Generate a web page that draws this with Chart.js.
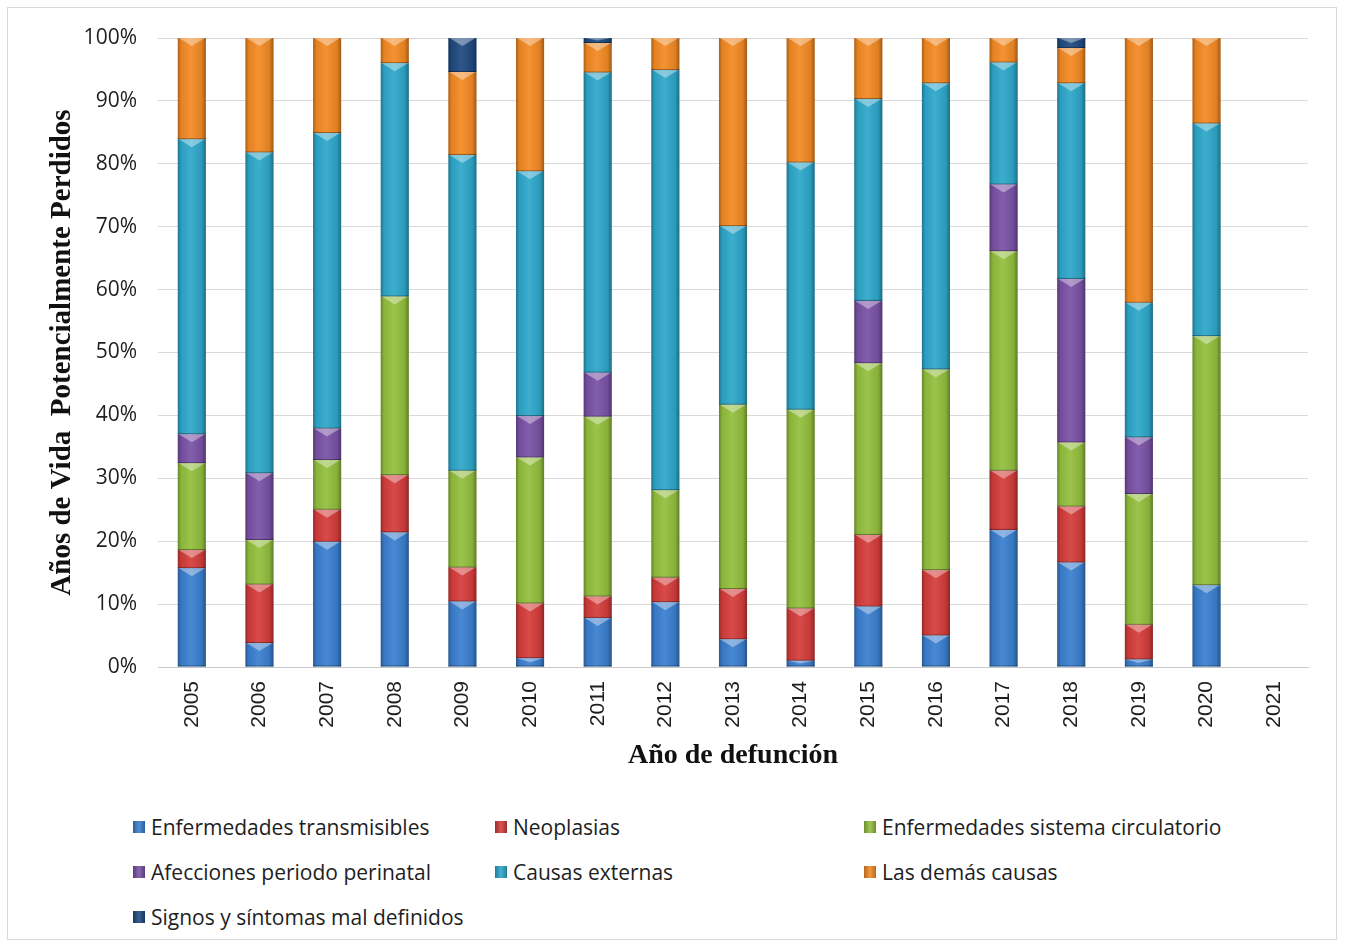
<!DOCTYPE html>
<html lang="es">
<head>
<meta charset="utf-8">
<title>Años de Vida Potencialmente Perdidos por año de defunción</title>
<script src="https://cdn.jsdelivr.net/npm/chart.js@4/dist/chart.umd.min.js"></script>
<style>
  html, body { margin: 0; padding: 0; background: #ffffff; }
  #wrap { position: relative; width: 1345px; height: 947px; overflow: hidden; }
  #frame { position: absolute; left: 7px; top: 7px; width: 1330px; height: 933px;
           border: 1px solid #d9d9d9; box-sizing: border-box; pointer-events: none; }
  #chart { position: absolute; left: 0; top: 0; }
  #legend { position: absolute; left: 133px; top: 804px;
            display: grid; grid-template-columns: 362px 369px 420px; grid-auto-rows: 45px;
            font-family: "Open Sans", "Noto Sans", sans-serif; font-size: 21px; color: #1e1e1e; }
  .item { display: flex; align-items: center; white-space: nowrap; }
  .swatch { width: 12px; height: 12px; margin-right: 6px; flex: none; position: relative; }
</style>
</head>
<body>
<div id="wrap">
  <canvas id="chart" width="1345" height="800"></canvas>
  <div id="legend"></div>
  <div id="frame"></div>
</div>
<script>
// Año de defunción
const years = ['2005','2006','2007','2008','2009','2010','2011','2012','2013',
               '2014','2015','2016','2017','2018','2019','2020','2021'];

// Share (%) of potential years of life lost, by cause group
const transmisibles = [15.7, 3.8, 19.9, 21.4, 10.4, 1.4, 7.8, 10.3, 4.4, 1.0, 9.6, 5.0, 21.8, 16.6, 1.2, 13.0, null];
const neoplasias    = [ 2.9, 9.3,  5.1,  9.1,  5.4, 8.7, 3.4,  3.9, 8.0, 8.3, 11.4, 10.4, 9.4, 8.9, 5.5, 0, null];
const circulatorio  = [13.8, 7.1,  7.9, 28.4, 15.4, 23.2, 28.6, 13.9, 29.3, 31.6, 27.3, 31.9, 34.9, 10.2, 20.8, 39.6, null];
const perinatal     = [ 4.6, 10.6, 5.0,  0,    0,   6.6, 7.0,  0,   0,   0,   9.9,  0,  10.6, 26.0, 9.0, 0, null];
const externas      = [46.9, 51.0, 47.0, 37.1, 50.2, 38.9, 47.7, 66.8, 28.4, 39.3, 32.1, 45.5, 19.4, 31.1, 21.4, 33.8, null];
const demas         = [16.1, 18.2, 15.1,  4.0, 13.2, 21.2, 4.7,  5.1, 29.9, 19.8, 9.7,  7.2,  3.9,  5.6, 42.1, 13.6, null];
const signos        = [ 0,   0,    0,     0,    5.4,  0,   0.8,  0,   0,    0,    0,    0,    0,    1.6,  0,    0, null];

const yTicks = [0, 10, 20, 30, 40, 50, 60, 70, 80, 90, 100];

const seriesNames = ['Enfermedades transmisibles', 'Neoplasias', 'Enfermedades sistema circulatorio',
                     'Afecciones periodo perinatal', 'Causas externas', 'Las demás causas',
                     'Signos y síntomas mal definidos'];
const seriesData = [transmisibles, neoplasias, circulatorio, perinatal, externas, demas, signos];
const seriesColors = ['#3b7fcf', '#d43d3b', '#93bf3e', '#7a52a6', '#2ea7ca', '#f38a24', '#1f4a80'];

// Bevelled look: darker edges, lighter centre and a light chevron on top of each segment
const bevelPlugin = {
  id: 'bevel',
  afterDatasetsDraw(chart) {
    const ctx = chart.ctx;
    ctx.save();
    chart.data.datasets.forEach((ds, i) => {
      const meta = chart.getDatasetMeta(i);
      if (meta.hidden) return;
      meta.data.forEach(bar => {
        const p = bar.getProps(['x', 'y', 'base', 'width'], true);
        const top = Math.min(p.y, p.base), bottom = Math.max(p.y, p.base);
        const h = bottom - top;
        if (!(h > 0.5)) return;
        const l = p.x - p.width / 2, r = p.x + p.width / 2;
        const g = ctx.createLinearGradient(l, 0, r, 0);
        g.addColorStop(0, 'rgba(0,0,0,0.30)');
        g.addColorStop(0.12, 'rgba(0,0,0,0.06)');
        g.addColorStop(0.45, 'rgba(255,255,255,0.07)');
        g.addColorStop(0.85, 'rgba(0,0,0,0.08)');
        g.addColorStop(1, 'rgba(0,0,0,0.35)');
        ctx.fillStyle = g;
        ctx.fillRect(l, top, p.width, h);
        const d = Math.min(8, h * 0.5);
        ctx.beginPath();
        ctx.moveTo(l + 1, top);
        ctx.lineTo(r - 1, top);
        ctx.lineTo(p.x, top + d);
        ctx.closePath();
        ctx.fillStyle = 'rgba(255,255,255,0.38)';
        ctx.fill();
        ctx.fillStyle = 'rgba(0,0,0,0.35)';
        ctx.fillRect(l, bottom - 1, p.width, 1);
      });
    });
    ctx.restore();
  }
};

const chart = new Chart(document.getElementById('chart'), {
  type: 'bar',
  data: {
    labels: years,
    datasets: seriesNames.map((name, i) => ({
      label: name,
      data: seriesData[i],
      backgroundColor: seriesColors[i],
      borderWidth: 0,
      categoryPercentage: 1,
      barPercentage: 0.415
    }))
  },
  options: {
    responsive: false,
    animation: false,
    layout: { padding: { top: 38, right: 37, bottom: 0, left: 0 } },
    plugins: { legend: { display: false }, tooltip: { enabled: false } },
    scales: {
      x: {
        stacked: true,
        grid: { display: false, drawTicks: false },
        border: { display: true, color: '#c8c8c8', width: 1 },
        ticks: {
          minRotation: 90, maxRotation: 90, padding: 14, autoSkip: false,
          color: '#1e1e1e',
          font: { family: '"Liberation Sans", Arial, sans-serif', size: 21 }
        },
        title: {
          display: true, text: 'Año de defunción', color: '#111111',
          font: { family: '"Liberation Serif", "Times New Roman", serif', size: 28, weight: 'bold' },
          padding: { top: 0, bottom: 27 }
        },
        afterFit(scale) { scale.height = 133; }
      },
      y: {
        stacked: true,
        min: 0, max: 100,
        afterBuildTicks(scale) { scale.ticks = yTicks.map(v => ({ value: v })); },
        grid: { color: '#d9d9d9', lineWidth: 1, drawTicks: false },
        border: { display: false },
        ticks: {
          padding: 21, color: '#1e1e1e',
          font: { family: '"Open Sans", "Noto Sans", sans-serif', size: 21 },
          callback: v => v + '%'
        },
        title: {
          display: true, text: 'Años de Vida  Potencialmente Perdidos', color: '#111111',
          font: { family: '"Liberation Serif", "Times New Roman", serif', size: 29, weight: 'bold' },
          padding: { top: 45, bottom: 0 }
        },
        afterFit(scale) { scale.width = 158; }
      }
    }
  },
  plugins: [bevelPlugin]
});

// Legend built from the chart's own datasets, laid out in three columns
const legendEl = document.getElementById('legend');
chart.data.datasets.forEach(ds => {
  const item = document.createElement('div');
  item.className = 'item';
  const sw = document.createElement('span');
  sw.className = 'swatch';
  sw.style.background = 'linear-gradient(to right, rgba(0,0,0,0.25), rgba(255,255,255,0.12) 50%, rgba(0,0,0,0.25)), ' + ds.backgroundColor;
  const txt = document.createElement('span');
  txt.textContent = ds.label;
  item.appendChild(sw);
  item.appendChild(txt);
  legendEl.appendChild(item);
});
</script>
</body>
</html>
